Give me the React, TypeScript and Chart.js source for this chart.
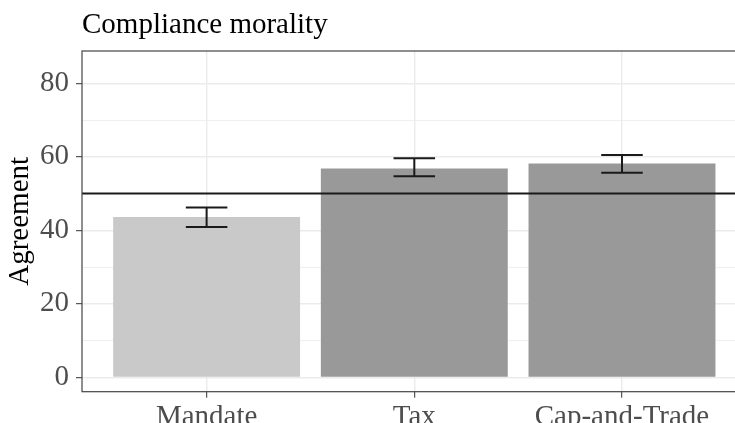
import React, { useEffect, useRef } from 'react';
import { Chart, registerables } from 'chart.js';

Chart.register(...registerables);

// Policy categories and mean agreement with confidence limits
const categories = ['Mandate', 'Tax', 'Cap-and-Trade'];
const agreement = [43.6, 56.8, 58.2];
const ciLower = [40.9, 54.7, 55.7];
const ciUpper = [46.2, 59.6, 60.5];
const barColors = ['#C9C9C9', '#999999', '#999999'];
const referenceLine = 50;
const yTickValues = [0, 10, 20, 30, 40, 50, 60, 70, 80];
const titleText = 'Compliance morality';
const yAxisTitle = 'Agreement';

const FONT = "'Liberation Serif', 'Times New Roman', serif";
const FONT_SIZE = 29;
const CANVAS_W = 750;
const CANVAS_H = 423;

const isMajor = (v: number) => v % 20 === 0;

const overlayPlugin = {
  id: 'overlay',
  afterDatasetsDraw(chart: any) {
    const { ctx, chartArea, scales } = chart;
    const x = scales.x;
    const y = scales.y;
    const { left, top, right, bottom } = chartArea;
    ctx.save();
    ctx.beginPath();
    ctx.rect(left, top, right - left, bottom - top);
    ctx.clip();

    // horizontal reference line
    const yr = y.getPixelForValue(referenceLine);
    ctx.strokeStyle = '#1A1A1A';
    ctx.lineWidth = 2;
    ctx.beginPath();
    ctx.moveTo(left, yr);
    ctx.lineTo(right, yr);
    ctx.stroke();

    // error bars (width 0.2 of a category)
    categories.forEach((_, i) => {
      const xc = x.getPixelForValue(i);
      const xl = x.getPixelForValue(i - 0.1);
      const xr = x.getPixelForValue(i + 0.1);
      const yl = y.getPixelForValue(ciLower[i]);
      const yu = y.getPixelForValue(ciUpper[i]);
      ctx.beginPath();
      ctx.moveTo(xl, yu);
      ctx.lineTo(xr, yu);
      ctx.moveTo(xc, yu);
      ctx.lineTo(xc, yl);
      ctx.moveTo(xl, yl);
      ctx.lineTo(xr, yl);
      ctx.stroke();
    });
    ctx.restore();

    // panel border
    ctx.save();
    ctx.strokeStyle = '#444444';
    ctx.lineWidth = 1.2;
    ctx.strokeRect(left, top, right - left, bottom - top);
    ctx.restore();
  },
  afterDraw(chart: any) {
    const { ctx, chartArea } = chart;
    ctx.save();
    ctx.font = `${FONT_SIZE}px ${FONT}`;
    ctx.fillStyle = '#000000';
    ctx.textBaseline = 'alphabetic';
    ctx.textAlign = 'left';
    ctx.fillText(titleText, chartArea.left, 33);
    ctx.restore();
  },
};

export default function App() {
  const canvasRef = useRef<HTMLCanvasElement | null>(null);

  useEffect(() => {
    const canvas = canvasRef.current;
    if (!canvas) return;
    const chart = new Chart(canvas, {
      type: 'bar',
      data: {
        datasets: [
          {
            label: yAxisTitle,
            data: categories.map((_, i) => ({ x: i, y: agreement[i] })),
            backgroundColor: barColors,
            borderWidth: 0,
            barPercentage: 0.9,
            categoryPercentage: 1,
          },
        ],
      },
      options: {
        animation: false,
        responsive: false,
        devicePixelRatio: 1,
        layout: { padding: { left: 0, top: 51, right: 3.4, bottom: 0 } },
        plugins: {
          legend: { display: false },
          tooltip: { enabled: false },
          title: { display: false },
        },
        scales: {
          x: {
            type: 'linear',
            offset: false,
            min: -0.6,
            max: 2.6,
            afterBuildTicks: (axis: any) => {
              axis.ticks = categories.map((_, i) => ({ value: i }));
            },
            afterFit: (axis: any) => {
              axis.height = 31.3;
            },
            ticks: {
              callback: (v: any) => categories[Number(v)] ?? '',
              font: { family: FONT, size: FONT_SIZE },
              color: '#4D4D4D',
              padding: 2,
              maxRotation: 0,
              autoSkip: false,
            },
            grid: {
              offset: false,
              color: '#EBEBEB',
              lineWidth: 1.4,
              tickColor: '#333333',
              tickLength: 6,
              tickWidth: 1,
            },
            border: { display: false },
          },
          y: {
            type: 'linear',
            min: -3.9,
            max: 88.8,
            afterBuildTicks: (axis: any) => {
              axis.ticks = yTickValues.map((v) => ({ value: v }));
            },
            afterFit: (axis: any) => {
              axis.width = 82;
            },
            ticks: {
              callback: (v: any) => (isMajor(Number(v)) ? String(v) : ''),
              font: { family: FONT, size: FONT_SIZE },
              color: '#4D4D4D',
              padding: 7,
              autoSkip: false,
            },
            grid: {
              color: '#EBEBEB',
              lineWidth: (c: any) => (isMajor(c.tick.value) ? 1.4 : 0.8),
              tickColor: (c: any) => (isMajor(c.tick.value) ? '#333333' : 'rgba(0,0,0,0)'),
              tickLength: 6,
              tickWidth: 1,
            },
            border: { display: false },
            title: {
              display: true,
              text: yAxisTitle,
              font: { family: FONT, size: FONT_SIZE },
              color: '#000000',
              padding: { top: 3, bottom: 0 },
            },
          },
        },
      },
      plugins: [overlayPlugin],
    } as any);
    return () => chart.destroy();
  }, []);

  return (
    <div
      style={{
        position: 'fixed',
        left: 0,
        top: 0,
        width: 735,
        height: 423,
        overflow: 'hidden',
        background: '#FFFFFF',
      }}
    >
      <canvas
        ref={canvasRef}
        width={CANVAS_W}
        height={CANVAS_H}
        style={{ display: 'block', width: CANVAS_W, height: CANVAS_H }}
      />
    </div>
  );
}
